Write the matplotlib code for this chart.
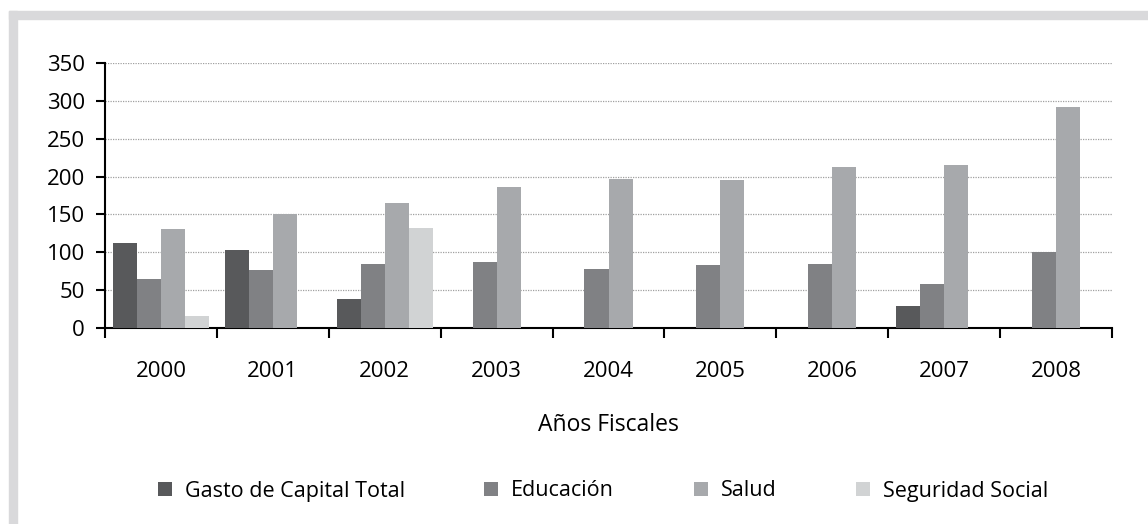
import matplotlib
matplotlib.use("Agg")
import matplotlib.pyplot as plt
import numpy as np
from matplotlib.patches import Rectangle

years = ["2000", "2001", "2002", "2003", "2004", "2005", "2006", "2007", "2008"]
series_names = ["Gasto de Capital Total", "Educación", "Salud", "Seguridad Social"]
gasto = [112, 103, 38, 0, 0, 0, 0, 29, 0]
educacion = [65, 76, 84, 87, 78, 83, 84, 58, 100]
salud = [131, 150, 165, 186, 197, 195, 212, 215, 292]
seguridad = [16, 0, 132, 0, 0, 0, 0, 0, 0]
colors = ["#58595b", "#808184", "#a7a9ac", "#d1d3d4"]

plt.rcParams["font.family"] = ["Open Sans", "DejaVu Sans"]

W, H = 1148, 524
fig = plt.figure(figsize=(W / 100, H / 100), dpi=100)

# frame (top and left gray border)
fig.patches.append(Rectangle((9 / W, 0), 8 / W, 1 - 11 / H, transform=fig.transFigure,
                             color="#d9d9db", zorder=0))
fig.patches.append(Rectangle((9 / W, 1 - 19 / H), 1 - 9 / W, 8 / H, transform=fig.transFigure,
                             color="#d9d9db", zorder=0))

ax = fig.add_axes([105 / W, 1 - 328 / H, (1112 - 105) / W, (328 - 63) / H])

data = [gasto, educacion, salud, seguridad]
x = np.arange(len(years))
bw = 0.2145
for i, (vals, c, name) in enumerate(zip(data, colors, series_names)):
    ax.bar(x + (i - 1.5) * bw, vals, width=bw, color=c, label=name, zorder=3)

ax.set_xlim(-0.5, len(years) - 0.5)
ax.set_ylim(0, 350)
ax.set_yticks(range(0, 351, 50))
ax.yaxis.grid(True, linestyle=(0, (1, 1)), color="#a0a0a0", linewidth=0.9, zorder=0)
ax.set_axisbelow(True)

ax.set_xticks(np.arange(-0.5, len(years) + 0.5, 1))
ax.set_xticklabels([])
ax.set_xticks(x, minor=True)
ax.set_xticklabels(years, minor=True)
ax.tick_params(axis="x", which="major", length=7, width=1.5, direction="out", color="black")
ax.tick_params(axis="x", which="minor", length=0, pad=24, labelsize=16)
ax.tick_params(axis="y", length=6.5, width=1.5, labelsize=16, pad=8)

for s in ["top", "right"]:
    ax.spines[s].set_visible(False)
ax.spines["left"].set_linewidth(1.5)
ax.spines["bottom"].set_linewidth(1.5)

ax.set_xlabel("Años Fiscales", fontsize=16.5, labelpad=22)

leg = fig.legend(loc="center", bbox_to_anchor=(603 / W, 1 - 491 / H), ncol=4, frameon=False,
                 fontsize=15.5, handlelength=0.65, handleheight=0.65, handletextpad=0.6,
                 columnspacing=3.7)

fig.savefig("out.png", dpi=100, facecolor="white")
